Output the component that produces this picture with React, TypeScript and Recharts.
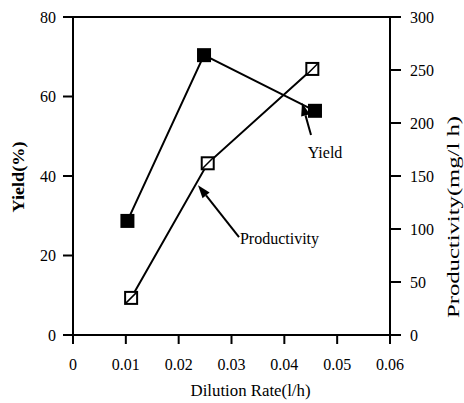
import React from 'react';
import {
  LineChart,
  Line,
  XAxis,
  YAxis,
  ReferenceLine,
  ReferenceDot,
} from 'recharts';

// Yield (%), filled squares, left axis
const yieldRate = [0.0103, 0.0248, 0.0458];
const yieldValues = [28.7, 70.4, 56.4];

// Productivity (mg/l h), open squares, right axis
const prodRate = [0.011, 0.0255, 0.0453];
const prodValues = [35, 162, 251];

const xTicks = [0, 0.01, 0.02, 0.03, 0.04, 0.05, 0.06];
const leftTicks = [0, 20, 40, 60, 80];
const rightTicks = [0, 50, 100, 150, 200, 250, 300];

// arrow annotations, in left-axis data units
const noteText = ['Yield', 'Productivity'];
const noteTextX = [0.0477, 0.0316];
const noteTextY = [46.0, 24.2];
const noteAnchor = ['middle', 'start'];
const noteFrom = [
  { x: 0.04505, y: 50.3 },
  { x: 0.03142, y: 24.65 },
];
const noteTo = [
  { x: 0.04334, y: 58.4 },
  { x: 0.02366, y: 37.7 },
];

const yieldData = yieldRate.map((x, i) => ({ x, y: yieldValues[i] }));
const prodData = prodRate.map((x, i) => ({ x, p: prodValues[i] }));

const FONT = '"Liberation Serif", "Times New Roman", serif';
const tickStyle = { fontSize: 16, fill: '#000', fontFamily: FONT };

const FilledSquare = (props: any) => {
  const { cx, cy } = props;
  if (cx == null || cy == null) return null;
  return <rect x={cx - 7} y={cy - 7} width={14} height={14} fill="#000" />;
};

const OpenSquare = (props: any) => {
  const { cx, cy } = props;
  if (cx == null || cy == null) return null;
  return (
    <g>
      <rect x={cx - 6} y={cy - 6} width={12} height={12} fill="#fff" stroke="#000" strokeWidth={2} />
      <line x1={cx - 6} y1={cy + 6} x2={cx + 6} y2={cy - 6} stroke="#000" strokeWidth={1.5} />
    </g>
  );
};

const Arrow = (props: any) => {
  const { x1, y1, x2, y2 } = props;
  const ang = Math.atan2(y2 - y1, x2 - x1);
  const len = 13;
  const half = 4.5;
  const bx = x2 - len * Math.cos(ang);
  const by = y2 - len * Math.sin(ang);
  const px = -Math.sin(ang) * half;
  const py = Math.cos(ang) * half;
  return (
    <g>
      <line x1={x1} y1={y1} x2={bx} y2={by} stroke="#000" strokeWidth={2} />
      <polygon points={`${x2},${y2} ${bx + px},${by + py} ${bx - px},${by - py}`} fill="#000" />
    </g>
  );
};

const NoteText = (text: string, anchor: string) => (props: any) => {
  const { cx, cy } = props;
  return (
    <text x={cx} y={cy} dy="0.35em" textAnchor={anchor} fontSize={16} fontFamily={FONT} fill="#000">
      {text}
    </text>
  );
};

const LeftTitle = (props: any) => {
  const { viewBox } = props;
  const x = viewBox.x + 18;
  const y = viewBox.y + viewBox.height / 2 + 1;
  return (
    <text x={x} y={y} transform={`rotate(-90 ${x} ${y})`} textAnchor="middle" dy="0.35em"
      fontSize={17} fontWeight="bold" fontFamily={FONT} fill="#000" textLength={71} lengthAdjust="spacingAndGlyphs">
      Yield(%)
    </text>
  );
};

const RightTitle = (props: any) => {
  const { viewBox } = props;
  const x = viewBox.x + 63;
  const y = viewBox.y + viewBox.height / 2 + 41;
  return (
    <text x={x} y={y} transform={`rotate(-90 ${x} ${y})`} textAnchor="middle" dy="0.35em"
      fontSize={17} fontFamily={FONT} fill="#000" textLength={202} lengthAdjust="spacingAndGlyphs">
      Productivity(mg/l h)
    </text>
  );
};

const BottomTitle = (props: any) => {
  const { viewBox } = props;
  const x = viewBox.x + viewBox.width / 2 + 19;
  const y = viewBox.y + 55;
  return (
    <text x={x} y={y} textAnchor="middle" dy="0.35em" fontSize={16} fontFamily={FONT} fill="#000"
      textLength={120} lengthAdjust="spacingAndGlyphs">
      Dilution Rate(l/h)
    </text>
  );
};

export default function App() {
  return (
    <div style={{ position: 'absolute', left: 0, top: 0, width: 464, height: 403, background: '#fff' }}>
      <LineChart width={464} height={403} margin={{ top: 17, right: 0, bottom: 0, left: 0 }}>
        <XAxis
          dataKey="x"
          type="number"
          domain={[0, 0.06]}
          ticks={xTicks}
          tickFormatter={(v: number) => (v === 0 ? '0' : v.toFixed(2))}
          height={68}
          tickSize={9}
          tickMargin={15}
          tick={tickStyle}
          axisLine={{ stroke: '#000', strokeWidth: 2 }}
          tickLine={{ stroke: '#000', strokeWidth: 2 }}
          label={<BottomTitle />}
          allowDataOverflow
        />
        <YAxis
          yAxisId="left"
          domain={[0, 80]}
          ticks={leftTicks}
          width={73}
          tickSize={10}
          tickMargin={7}
          tick={tickStyle}
          axisLine={{ stroke: '#000', strokeWidth: 2 }}
          tickLine={{ stroke: '#000', strokeWidth: 2 }}
          label={<LeftTitle />}
        />
        <YAxis
          yAxisId="right"
          orientation="right"
          domain={[0, 300]}
          ticks={rightTicks}
          width={74}
          tickSize={11}
          tickMargin={9}
          tick={tickStyle}
          axisLine={{ stroke: '#000', strokeWidth: 2 }}
          tickLine={{ stroke: '#000', strokeWidth: 2 }}
          label={<RightTitle />}
        />
        <ReferenceLine yAxisId="left" y={80} stroke="#000" strokeWidth={2} />
        <Line
          yAxisId="left"
          data={yieldData}
          dataKey="y"
          stroke="#000"
          strokeWidth={2}
          dot={<FilledSquare />}
          activeDot={false}
          isAnimationActive={false}
        />
        <Line
          yAxisId="right"
          data={prodData}
          dataKey="p"
          stroke="#000"
          strokeWidth={2}
          dot={<OpenSquare />}
          activeDot={false}
          isAnimationActive={false}
        />
        {noteText.map((t, i) => (
          <ReferenceLine
            key={`arrow-${i}`}
            yAxisId="left"
            segment={[noteFrom[i], noteTo[i]]}
            shape={Arrow}
            ifOverflow="visible"
          />
        ))}
        {noteText.map((t, i) => (
          <ReferenceDot
            key={`note-${i}`}
            yAxisId="left"
            x={noteTextX[i]}
            y={noteTextY[i]}
            r={0}
            shape={NoteText(t, noteAnchor[i])}
            ifOverflow="visible"
          />
        ))}
      </LineChart>
    </div>
  );
}
